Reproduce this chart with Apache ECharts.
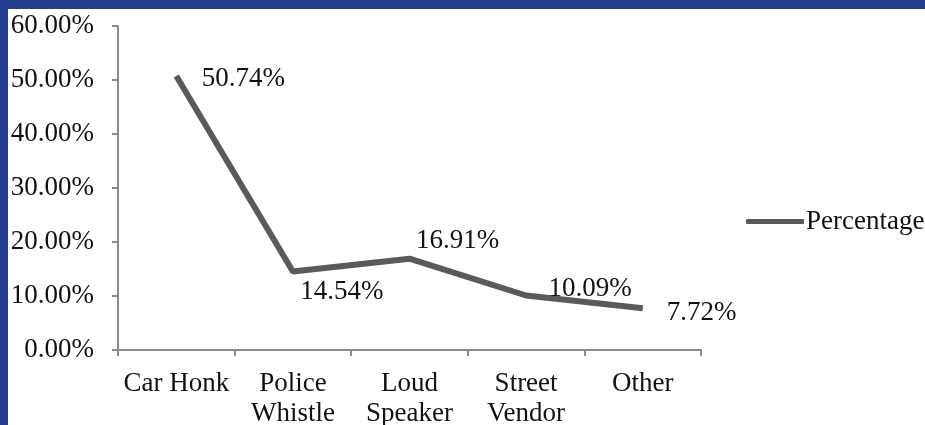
<!DOCTYPE html>
<html>
<head>
<meta charset="utf-8">
<script src="https://cdn.jsdelivr.net/npm/echarts@6/dist/echarts.min.js"></script>
<style>
  html, body { margin:0; padding:0; background:#243e8e; }
  #frame { position:absolute; left:8px; top:9px; width:917px; height:416px; background:#fff; overflow:hidden; }
  #main { position:absolute; left:-8px; top:-9px; width:925px; height:425px; }
</style>
</head>
<body>
<div id="frame"><div id="main"></div></div>
<script>
//类别
let categories = ['Car Honk', 'Police\nWhistle', 'Loud\nSpeaker', 'Street\nVendor', 'Other']
//百分比
let percentValues = [50.74, 14.54, 16.91, 10.09, 7.72]
//y轴刻度
let yTicks = [0, 10, 20, 30, 40, 50, 60]
//标签偏移
let labelOffsets = [[67, 3], [49, 20], [48, -18], [64, -7], [59, 5]]

let font = '"Liberation Serif", "Times New Roman", serif'
let myChart = echarts.init(document.getElementById('main'))

let option = {
    animation: false,
    grid: { left: 118, right: 224, top: 26, bottom: 75, outerBoundsMode: 'none' },
    legend: {
        data: ['Percentage'],
        left: 741, top: 203,
        icon: 'roundRect',
        itemWidth: 58, itemHeight: 5,
        itemGap: 0,
        textStyle: { fontFamily: font, fontSize: 27, color: '#111', padding: [0, 0, 0, -3] }
    },
    xAxis: {
        type: 'category',
        data: categories,
        boundaryGap: true,
        axisLine: { lineStyle: { color: '#8a8a8a', width: 2 } },
        axisTick: { show: true, length: 6, lineStyle: { color: '#8a8a8a', width: 2 } },
        axisLabel: { fontFamily: font, fontSize: 27, color: '#111', lineHeight: 30, margin: 19, interval: 0 }
    },
    yAxis: {
        type: 'value',
        min: yTicks[0], max: yTicks[yTicks.length - 1], interval: 10,
        splitLine: { show: false },
        axisLine: { show: true, lineStyle: { color: '#8a8a8a', width: 2 } },
        axisTick: { show: true, length: 6, lineStyle: { color: '#8a8a8a', width: 2 } },
        axisLabel: {
            fontFamily: font, fontSize: 27, color: '#111', margin: 24,
            formatter: v => v.toFixed(2) + '%'
        }
    },
    series: [{
        name: 'Percentage',
        type: 'line',
        data: percentValues.map((v, i) => ({
            value: v,
            label: { offset: labelOffsets[i] }
        })),
        symbol: 'circle',
        symbolSize: 1,
        itemStyle: { color: '#5a5a5a' },
        lineStyle: { color: '#5a5a5a', width: 6 },
        label: {
            show: true,
            position: 'inside',
            fontFamily: font, fontSize: 27, color: '#111',
            formatter: p => p.value.toFixed(2) + '%'
        }
    }]
}
myChart.setOption(option)
</script>
</body>
</html>
